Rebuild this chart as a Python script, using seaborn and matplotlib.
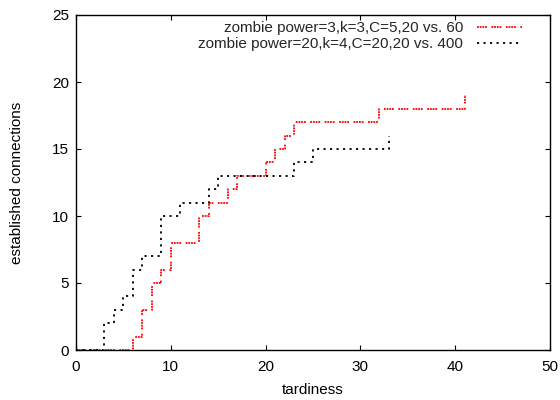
import matplotlib
matplotlib.use("Agg")
import matplotlib.pyplot as plt
import seaborn as sns
import pandas as pd

# Data
red_x = [0, 6, 7, 8, 9, 10, 13, 14, 16, 17, 20, 21, 22, 23, 32, 41]
red_y = [0, 1, 3, 5, 6, 8, 10, 11, 12, 13, 14, 15, 16, 17, 18, 19]
black_x = [0, 3, 4, 5, 6, 7, 9, 11, 14, 15, 23, 25, 33]
black_y = [0, 2, 3, 4, 6, 7, 10, 11, 12, 13, 14, 15, 16]
red_label = "zombie power=3,k=3,C=5,20 vs. 60"
black_label = "zombie power=20,k=4,C=20,20 vs. 400"
x_ticks = [0, 10, 20, 30, 40, 50]
y_ticks = [0, 5, 10, 15, 20, 25]

sns.set_theme(style="ticks")
plt.rcParams["font.family"] = ["Liberation Sans", "DejaVu Sans"]
plt.rcParams.update({
    "xtick.direction": "in", "ytick.direction": "in",
    "xtick.top": True, "ytick.right": True,
    "xtick.major.size": 3.6, "ytick.major.size": 3.6,
    "xtick.major.width": 0.8, "ytick.major.width": 0.8,
    "axes.edgecolor": "black", "axes.linewidth": 1.0,
})

fig = plt.figure(figsize=(5.6, 4.0), dpi=100)
ax = fig.add_axes([76/560, 1-350/400, (550-76)/560, (350-15)/400])

df_r = pd.DataFrame({"x": red_x, "y": red_y})
df_b = pd.DataFrame({"x": black_x, "y": black_y})
sns.lineplot(data=df_r, x="x", y="y", ax=ax, color="red", lw=1.3,
             drawstyle="steps-post", estimator=None, sort=False,
             linestyle=(0, (1, 0.5, 1, 0.5, 1, 0.5, 1, 2.5)), label=red_label)
sns.lineplot(data=df_b, x="x", y="y", ax=ax, color="black", lw=1.3,
             drawstyle="steps-post", estimator=None, sort=False,
             linestyle=(0, (1.2, 2.4)), label=black_label)

ax.set_xlim(0, 50)
ax.set_ylim(0, 25)
ax.set_xticks(x_ticks)
ax.set_yticks(y_ticks)
ax.tick_params(axis="x", labelsize=11, colors="black", pad=7.5)
ax.tick_params(axis="y", labelsize=11, colors="black", pad=5)
ax.set_xlabel("tardiness", fontsize=11, color="black", labelpad=6)
ax.set_ylabel("established connections", fontsize=11, color="black", labelpad=20)
for s in ax.spines.values():
    s.set_visible(True)

leg = ax.legend(loc="upper right", bbox_to_anchor=((522-76)/474, 0.982),
                frameon=False, fontsize=11, markerfirst=False,
                handlelength=2.95, handletextpad=0.9, borderpad=0,
                borderaxespad=0, labelspacing=0.15)

fig.savefig("out.png", dpi=100)
